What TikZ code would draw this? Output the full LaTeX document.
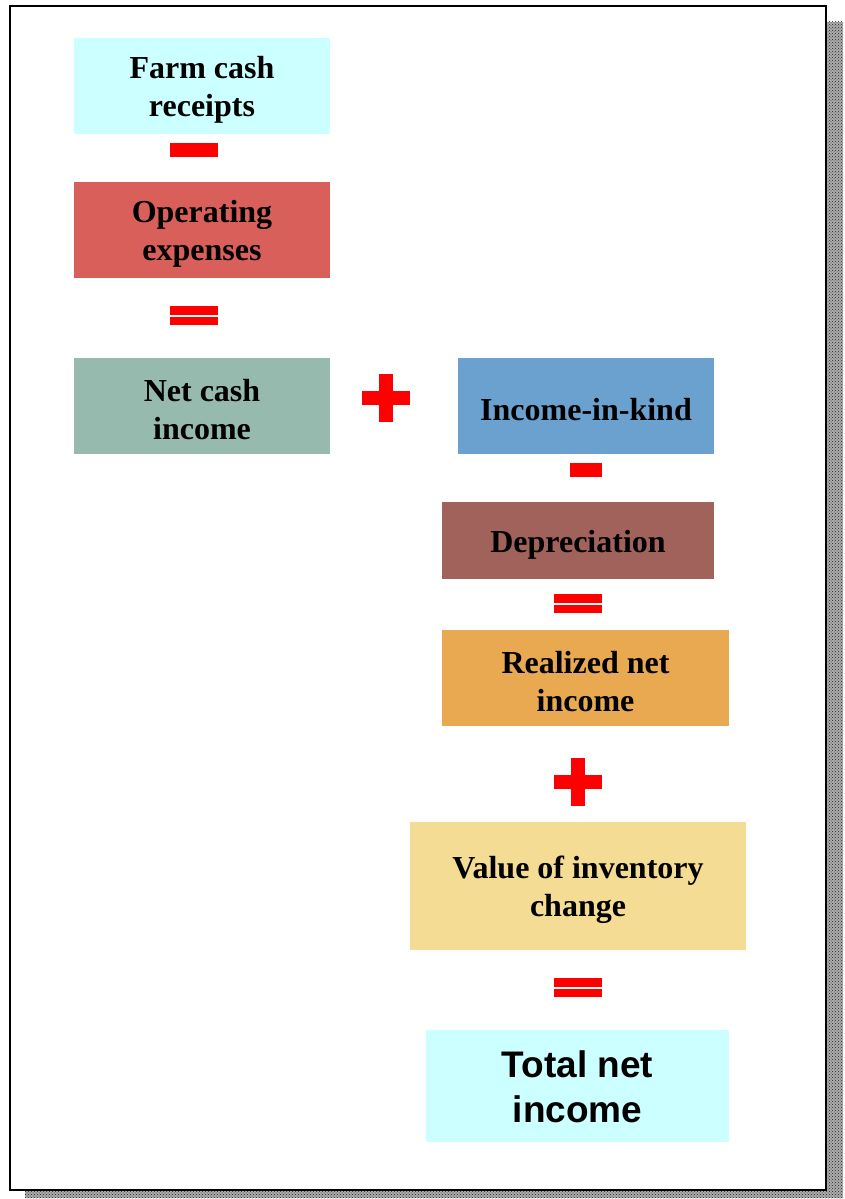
\documentclass[tikz,border=0pt]{standalone}
\usepackage{fontspec}
\setmainfont{Liberation Serif}
\newfontfamily\sansbold{Liberation Sans}
\usetikzlibrary{patterns}
\definecolor{cyanbox}{HTML}{CCFFFF}
\definecolor{opbox}{HTML}{D9605A}
\definecolor{netbox}{HTML}{96BAAD}
\definecolor{kindbox}{HTML}{6BA1CF}
\definecolor{depbox}{HTML}{A0625A}
\definecolor{realbox}{HTML}{E8A951}
\definecolor{valbox}{HTML}{F5DC94}
\definecolor{signred}{HTML}{FF0000}
\newcommand{\myStrutS}{\rule[-2pt]{0pt}{32pt}}
\newcommand{\myStrutT}{\rule[-4pt]{0pt}{35pt}}
\tikzset{
  termbox/.style={anchor=north west, inner sep=0pt, outer sep=0pt, align=center,
    font=\fontsize{32}{38}\selectfont\bfseries},
  totalbox/.style={anchor=north west, inner sep=0pt, outer sep=0pt, align=center,
    font=\sansbold\fontsize{37}{45}\selectfont\bfseries},
  sign/.style={fill=signred, draw=none}
}
\begin{document}
\begin{tikzpicture}[x=1pt,y=-1pt]
\useasboundingbox (0,0) rectangle (845,1199);
% shadow
\fill[gray!65] (25,22) rectangle (843,1198);
\fill[pattern=crosshatch dots, pattern color=black!85] (25,22) rectangle (843,1198);
% page
\draw[line width=2pt, fill=white] (10,6) rectangle (826,1190);

% boxes
\node[termbox, fill=cyanbox, minimum width=256pt, minimum height=96pt] (farm) at (74,38) {\myStrutS Farm cash\\\myStrutS receipts};
\node[termbox, fill=opbox, minimum width=256pt, minimum height=96pt] (oper) at (74,182) {\myStrutS Operating\\\myStrutS expenses};
\node[termbox, fill=netbox, minimum width=256pt, minimum height=96pt] (netcash) at (74,358) {\myStrutS Net cash\\\myStrutS income};
\node[termbox, fill=kindbox, minimum width=256pt, minimum height=96pt] (kind) at (458,358) {\myStrutS Income-in-kind};
\node[termbox, fill=depbox, minimum width=272pt, minimum height=77pt] (dep) at (442,502) {\myStrutS Depreciation};
\node[termbox, fill=realbox, minimum width=287pt, minimum height=96pt] (real) at (442,630) {\myStrutS Realized net\\\myStrutS income};
\node[termbox, fill=valbox, minimum width=336pt, minimum height=128pt] (val) at (410,822) {\myStrutS Value of inventory\\\myStrutS change};
\node[totalbox, fill=cyanbox, minimum width=303pt, minimum height=112pt] (total) at (426,1030) {\myStrutT Total net\\\myStrutT income};

% signs
% minus 1
\fill[sign] (170,143) rectangle (218,157);
% equals 1
\fill[sign] (170,306) rectangle (218,315);
\fill[sign] (170,317) rectangle (218,325);
% plus 1
\fill[sign] (379,374) rectangle (393,422);
\fill[sign] (362,391) rectangle (410,405);
% minus 2
\fill[sign] (570,463) rectangle (602,477);
% equals 2
\fill[sign] (554,594) rectangle (602,603);
\fill[sign] (554,605) rectangle (602,613);
% plus 2
\fill[sign] (571,758) rectangle (585,806);
\fill[sign] (554,775) rectangle (602,789);
% equals 3
\fill[sign] (554,978) rectangle (602,987);
\fill[sign] (554,989) rectangle (602,997);
\end{tikzpicture}
\end{document}
